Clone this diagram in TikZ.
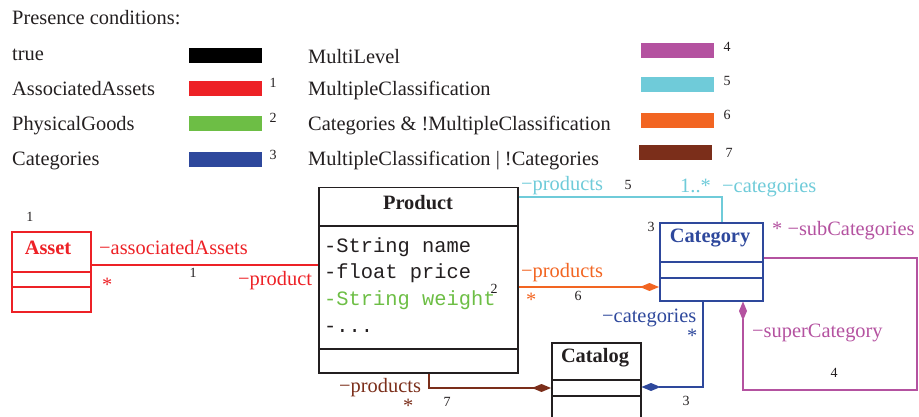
\documentclass[tikz,border=0pt]{standalone}
\usepackage{fontspec}
\setmainfont{Liberation Serif}
\setmonofont{Liberation Mono}
\usetikzlibrary{arrows.meta}
\definecolor{ink}{RGB}{35,31,32}
\definecolor{pcred}{RGB}{237,33,38}
\definecolor{pcgreen}{RGB}{109,190,69}
\definecolor{pcblue}{RGB}{46,72,156}
\definecolor{pcmagenta}{RGB}{180,82,160}
\definecolor{pccyan}{RGB}{111,203,217}
\definecolor{pcorange}{RGB}{242,101,34}
\definecolor{pcbrown}{RGB}{123,46,26}
\begin{document}
\begin{tikzpicture}[x=1pt,y=-1pt,
  font=\fontsize{20.4}{24}\selectfont,
  lbl/.style={inner sep=0pt,anchor=base west},
  ttl/.style={inner sep=0pt,anchor=base,font=\fontsize{20.4}{24}\selectfont\bfseries},
  attr/.style={inner sep=0pt,anchor=base west,font=\fontsize{20.4}{24}\ttfamily},
  num/.style={inner sep=0pt,text=ink,font=\fontsize{14}{16}\selectfont},
  swatch/.style={inner sep=0pt,anchor=north west,minimum width=73pt,minimum height=15pt},
  cls/.style={draw,line width=1.5pt,inner sep=0pt,anchor=north west},
  link/.style={line width=1.5pt},
  owner/.style={link,-{Diamond[length=19pt,width=8pt]}}]
\useasboundingbox (0,0) rectangle (919,417);

% ---------- legend ----------
\node[lbl,text=ink] (pc) at (12,25) {Presence conditions:};
\node[lbl,text=ink] (c0) at (12,61) {true};
\node[lbl,text=ink] (c1) at (12,96) {AssociatedAssets};
\node[lbl,text=ink] (c2) at (12,131) {PhysicalGoods};
\node[lbl,text=ink] (c3) at (12,166) {Categories};
\node[swatch,fill=black] (s0) at (189,48) {};
\node[swatch,fill=pcred] (s1) at (189,81) {};
\node[swatch,fill=pcgreen] (s2) at (189,116) {};
\node[swatch,fill=pcblue] (s3) at (189,152) {};
\node[num] (n1) at (273,83) {1};
\node[num] (n2) at (273,118) {2};
\node[num] (n3) at (273,155) {3};
\node[lbl,text=ink] (c4) at (308,64) {MultiLevel};
\node[lbl,text=ink] (c5) at (308,96) {MultipleClassification};
\node[lbl,text=ink] (c6) at (308,131) {Categories \& !MultipleClassification};
\node[lbl,text=ink] (c7) at (308,166) {MultipleClassification | !Categories};
\node[swatch,fill=pcmagenta] (s4) at (641,43) {};
\node[swatch,fill=pccyan] (s5) at (641,77) {};
\node[swatch,fill=pcorange] (s6) at (641,113) {};
\node[swatch,fill=pcbrown] (s7) at (639,145) {};
\node[num] (n4) at (727,47) {4};
\node[num] (n5) at (727,81) {5};
\node[num] (n6) at (727,115) {6};
\node[num] (n7) at (729,153) {7};

% ---------- classes ----------
\node[cls,draw=pcred,minimum width=79pt,minimum height=80pt] (asset) at (11,231) {};
\draw[pcred,line width=1.5pt] (asset.west |- 0,272) -- (asset.east |- 0,272)
                              (asset.west |- 0,287) -- (asset.east |- 0,287);
\node[ttl,text=pcred] (assetT) at (48,254) {Asset};

\node[cls,draw=ink,minimum width=199pt,minimum height=185pt] (product) at (318,187) {};
\draw[ink,line width=1.5pt] (product.west |- 0,226) -- (product.east |- 0,226)
                            (product.west |- 0,349) -- (product.east |- 0,349);
\node[ttl,text=ink] (productT) at (418,209) {Product};
\node[attr,text=ink] (a1) at (324,252) {-String name};
\node[attr,text=ink] (a2) at (324,278) {-float price};
\node[attr,text=pcgreen] (a3) at (324,305) {-String weight};
\node[attr,text=ink] (a4) at (324,332) {-...};

\node[cls,draw=pcblue,minimum width=103pt,minimum height=78pt] (category) at (659,222) {};
\draw[pcblue,line width=1.5pt] (category.west |- 0,262) -- (category.east |- 0,262)
                               (category.west |- 0,278) -- (category.east |- 0,278);
\node[ttl,text=pcblue] (categoryT) at (710,243) {Category};

\node[cls,draw=ink,minimum width=89pt,minimum height=100pt] (catalog) at (551,342) {};
\draw[ink,line width=1.5pt] (catalog.west |- 0,380) -- (catalog.east |- 0,380)
                            (catalog.west |- 0,396) -- (catalog.east |- 0,396);
\node[ttl,text=ink] (catalogT) at (595,362) {Catalog};

% ---------- associations ----------
% AssociatedAssets (1)
\draw[link,pcred] (asset.east |- 0,265) -- (product.west |- 0,265);
\node[num] at (30,217) {1};
\node[lbl,text=pcred] at (99,254) {−associatedAssets};
\node[lbl,text=pcred] at (102,291) {*};
\node[num] at (193,273) {1};
\node[lbl,text=pcred] at (238,285) {−product};

% MultipleClassification (5)
\draw[link,pccyan] (product.east |- 0,197) -| (category.north -| 722,0);
\node[lbl,text=pccyan] at (521,191) {−products};
\node[num] at (628,185) {5};
\node[lbl,text=pccyan] at (680,193) {1..*};
\node[lbl,text=pccyan] at (722,193) {−categories};
\node[num] at (651,227) {3};

% Categories & !MultipleClassification (6)
\draw[owner,pcorange] (product.east |- 0,287) -- (category.west |- 0,287);
\node[lbl,text=pcorange] at (521,277) {−products};
\node[lbl,text=pcorange] at (526,306) {*};
\node[num] at (578,296) {6};
\node[num] at (494,289) {2};

% MultiLevel (4)
\draw[owner,pcmagenta] (category.east |- 0,258) -- (917,258) -- (917,390) -- (743,390)
  -- (category.south -| 743,0);
\node[lbl,text=pcmagenta] at (772,236) {* −subCategories};
\node[lbl,text=pcmagenta] at (752,337) {−superCategory};
\node[num] at (834,373) {4};

% Categories (3)
\draw[owner,pcblue] (category.south -| 703,0) |- (catalog.east |- 0,387);
\node[lbl,text=pcblue] at (602,322) {−categories};
\node[lbl,text=pcblue] at (687,342) {*};
\node[num] at (686,401) {3};

% MultipleClassification | !Categories (7)
\draw[owner,pcbrown] (product.south -| 429,0) |- (catalog.west |- 0,388);
\node[lbl,text=pcbrown] at (339,392) {−products};
\node[lbl,text=pcbrown] at (403,412) {*};
\node[num] at (447,402) {7};
\end{tikzpicture}
\end{document}
